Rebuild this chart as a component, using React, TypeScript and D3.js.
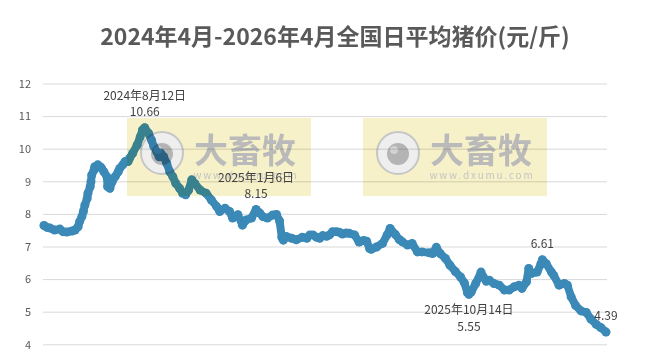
import * as d3 from 'd3'
import { useEffect, useRef } from 'react'

const title = '2024年4月-2026年4月全国日平均猪价(元/斤)'

const dates = [
  '2024-04-01', '2024-04-05', '2024-04-09', '2024-04-15', '2024-04-22', '2024-04-26',
  '2024-05-01', '2024-05-08', '2024-05-12', '2024-05-16', '2024-05-18', '2024-05-21',
  '2024-05-23', '2024-05-25', '2024-05-28', '2024-05-29', '2024-06-01', '2024-06-02',
  '2024-06-03', '2024-06-06', '2024-06-07', '2024-06-11', '2024-06-14', '2024-06-16',
  '2024-06-19', '2024-06-23', '2024-06-24', '2024-06-27', '2024-06-30', '2024-07-04',
  '2024-07-08', '2024-07-10', '2024-07-14', '2024-07-17', '2024-07-21', '2024-07-23',
  '2024-07-27', '2024-08-02', '2024-08-06', '2024-08-09', '2024-08-12', '2024-08-17',
  '2024-08-21', '2024-08-24', '2024-08-28', '2024-08-31', '2024-09-02', '2024-09-06',
  '2024-09-10', '2024-09-14', '2024-09-18', '2024-09-22', '2024-09-27', '2024-10-01',
  '2024-10-05', '2024-10-09', '2024-10-13', '2024-10-17', '2024-10-24', '2024-11-01',
  '2024-11-08', '2024-11-15', '2024-11-19', '2024-11-26', '2024-12-02', '2024-12-06',
  '2024-12-13', '2024-12-19', '2024-12-24', '2024-12-31', '2025-01-06', '2025-01-11',
  '2025-01-15', '2025-01-21', '2025-01-28', '2025-02-02', '2025-02-06', '2025-02-09',
  '2025-02-11', '2025-02-15', '2025-02-22', '2025-02-28', '2025-03-08', '2025-03-14',
  '2025-03-18', '2025-03-22', '2025-03-27', '2025-03-31', '2025-04-04', '2025-04-09',
  '2025-04-13', '2025-04-17', '2025-04-22', '2025-04-26', '2025-04-30', '2025-05-05',
  '2025-05-09', '2025-05-16', '2025-05-22', '2025-05-28', '2025-06-01', '2025-06-05',
  '2025-06-07', '2025-06-14', '2025-06-22', '2025-06-28', '2025-07-02', '2025-07-09',
  '2025-07-14', '2025-07-18', '2025-07-25', '2025-07-31', '2025-08-07', '2025-08-13',
  '2025-08-23', '2025-08-27', '2025-09-01', '2025-09-06', '2025-09-13', '2025-09-19',
  '2025-09-26', '2025-10-03', '2025-10-08', '2025-10-12', '2025-10-14', '2025-10-17',
  '2025-10-23', '2025-10-30', '2025-11-02', '2025-11-06', '2025-11-10', '2025-11-16',
  '2025-11-23', '2025-11-30', '2025-12-06', '2025-12-13', '2025-12-19', '2025-12-23',
  '2025-12-29', '2026-01-01', '2026-01-05', '2026-01-12', '2026-01-17', '2026-01-19',
  '2026-01-24', '2026-01-31', '2026-02-03', '2026-02-10', '2026-02-17', '2026-02-21',
  '2026-02-26', '2026-03-04', '2026-03-11', '2026-03-18', '2026-03-24', '2026-03-31',
  '2026-04-06', '2026-04-13',
]

const prices = [
  7.66, 7.6, 7.58, 7.52, 7.55, 7.47,
  7.46, 7.49, 7.52, 7.62, 7.78, 7.93,
  8.09, 8.29, 8.49, 8.65, 8.85, 9.0,
  9.21, 9.36, 9.46, 9.52, 9.46, 9.42,
  9.31, 9.16, 8.85, 8.8, 9.0, 9.16,
  9.31, 9.41, 9.52, 9.62, 9.62, 9.72,
  9.87, 10.13, 10.38, 10.59, 10.66, 10.49,
  10.28, 10.08, 9.92, 9.77, 9.88, 9.77,
  9.57, 9.31, 9.16, 8.95, 8.8, 8.65,
  8.6, 8.75, 9.06, 8.95, 8.75, 8.65,
  8.44, 8.24, 8.09, 8.19, 8.09, 7.89,
  7.99, 7.67, 7.83, 7.89, 8.15, 8.04,
  7.93, 7.89, 7.98, 8.0, 7.8, 7.3,
  7.21, 7.32, 7.27, 7.22, 7.3, 7.27,
  7.37, 7.37, 7.3, 7.27, 7.35, 7.33,
  7.37, 7.47, 7.47, 7.45, 7.4, 7.43,
  7.42, 7.37, 7.15, 7.2, 7.18, 6.95,
  6.93, 7.0, 7.11, 7.37, 7.57, 7.38,
  7.23, 7.16, 7.06, 7.11, 6.85, 6.85,
  6.82, 6.8, 6.99, 6.8, 6.65, 6.44,
  6.25, 6.08, 5.9, 5.6, 5.55, 5.62,
  5.88, 6.23, 6.08, 5.95, 5.98, 5.88,
  5.83, 5.68, 5.68, 5.78, 5.83, 5.73,
  5.93, 6.34, 6.19, 6.23, 6.48, 6.61,
  6.49, 6.23, 6.13, 5.83, 5.88, 5.83,
  5.47, 5.2, 5.04, 4.99, 4.79, 4.63,
  4.53, 4.39,
]

const yTicks = [4, 5, 6, 7, 8, 9, 10, 11, 12]

// labelled points
const noteDates = ['2024-08-12', '2025-01-06', '2025-10-14', '2026-01-19', '2026-04-13']
const noteValues = [10.66, 8.15, 5.55, 6.61, 4.39]
const noteTexts = ['2024年8月12日', '2025年1月6日', '2025年10月14日', '', '']
const noteBelow = [false, false, true, false, false]

const FONT = '"Noto Sans CJK SC", "Noto Sans", sans-serif'

const App = () => {
  const ref = useRef<SVGSVGElement>(null)

  useEffect(() => {
    const width = 645
    const height = 364
    const svg = d3.select(ref.current)
    svg.selectAll('*').remove()
    svg.attr('width', width).attr('height', height)

    const parse = d3.timeParse('%Y-%m-%d')
    const data = dates.map((d, i) => ({ date: parse(d) as Date, value: prices[i] }))

    const x = d3
      .scaleTime()
      .domain([parse(dates[0]) as Date, parse(dates[dates.length - 1]) as Date])
      .range([44, 606])
    const y = d3.scaleLinear().domain([4, 12]).range([344.8, 84])

    svg.append('rect').attr('width', width).attr('height', height).attr('fill', '#ffffff')

    // title
    svg
      .append('text')
      .attr('x', 335)
      .attr('y', 37)
      .attr('dy', '0.35em')
      .attr('text-anchor', 'middle')
      .style('font-family', FONT)
      .style('font-size', '23px')
      .style('font-weight', 'bold')
      .attr('fill', '#595959')
      .text(title)

    // grid + y labels
    const grid = svg.append('g')
    grid
      .selectAll('line')
      .data(yTicks)
      .join('line')
      .attr('x1', 43)
      .attr('x2', 607)
      .attr('y1', (d) => y(d))
      .attr('y2', (d) => y(d))
      .attr('stroke', '#d9d9d9')
      .attr('stroke-width', 1)
    grid
      .selectAll('text')
      .data(yTicks)
      .join('text')
      .attr('x', 31)
      .attr('y', (d) => y(d))
      .attr('dy', '0.35em')
      .attr('text-anchor', 'end')
      .style('font-family', FONT)
      .style('font-size', '11px')
      .attr('fill', '#595959')
      .text((d) => d)

    // price line, drawn as a thick band of dots
    const line = d3
      .line<{ date: Date; value: number }>()
      .x((d) => x(d.date))
      .y((d) => y(d.value))
    svg
      .append('path')
      .datum(data)
      .attr('d', line)
      .attr('fill', 'none')
      .attr('stroke', '#3b89b7')
      .attr('stroke-width', 8)
      .attr('stroke-linejoin', 'round')
      .attr('stroke-linecap', 'round')
    svg
      .append('g')
      .attr('fill', '#3b89b7')
      .selectAll('circle')
      .data(data)
      .join('circle')
      .attr('cx', (d) => x(d.date))
      .attr('cy', (d) => y(d.value))
      .attr('r', 4.5)

    // watermarks
    ;[127, 363].forEach((left) => {
      const g = svg.append('g').style('mix-blend-mode', 'multiply')
      g.append('rect')
        .attr('x', left)
        .attr('y', 118)
        .attr('width', 184)
        .attr('height', 78)
        .attr('fill', '#f6f1c8')
      g.append('circle')
        .attr('cx', left + 35)
        .attr('cy', 153)
        .attr('r', 21)
        .attr('fill', '#eeeeee')
        .attr('stroke', '#c6c6c6')
        .attr('stroke-width', 2)
      g.append('circle')
        .attr('cx', left + 35)
        .attr('cy', 154)
        .attr('r', 11)
        .attr('fill', '#b4b4b4')
      g.append('circle')
        .attr('cx', left + 31)
        .attr('cy', 150)
        .attr('r', 4)
        .attr('fill', '#d2d2d2')
      g.append('text')
        .attr('x', left + 118)
        .attr('y', 151)
        .attr('dy', '0.35em')
        .attr('text-anchor', 'middle')
        .style('font-family', FONT)
        .style('font-size', '34px')
        .style('font-weight', 'bold')
        .attr('fill', '#bababa')
        .text('大畜牧')
      g.append('text')
        .attr('x', left + 119)
        .attr('y', 175)
        .attr('dy', '0.35em')
        .attr('text-anchor', 'middle')
        .style('font-family', FONT)
        .style('font-size', '10px')
        .style('letter-spacing', '1.8px')
        .attr('fill', '#c4c4c4')
        .text('www.dxumu.com')
    })

    // annotations
    const ann = svg
      .append('g')
      .style('font-family', FONT)
      .style('font-size', '12px')
      .attr('fill', '#404040')
    noteDates.forEach((d, i) => {
      const cx = x(parse(d) as Date)
      const cy = y(noteValues[i])
      const dateY = noteBelow[i] ? cy + 16 : cy - 32
      const valueY = noteBelow[i] ? cy + 32.5 : cy - 16
      if (noteTexts[i]) {
        ann
          .append('text')
          .attr('x', cx)
          .attr('y', dateY)
          .attr('dy', '0.35em')
          .attr('text-anchor', 'middle')
          .text(noteTexts[i])
      }
      ann
        .append('text')
        .attr('x', cx)
        .attr('y', valueY)
        .attr('dy', '0.35em')
        .attr('text-anchor', 'middle')
        .text(noteValues[i].toFixed(2))
    })
  }, [])

  return (
    <div style={{ position: 'fixed', left: 0, top: 0 }}>
      <svg ref={ref}></svg>
    </div>
  )
}

export default App
